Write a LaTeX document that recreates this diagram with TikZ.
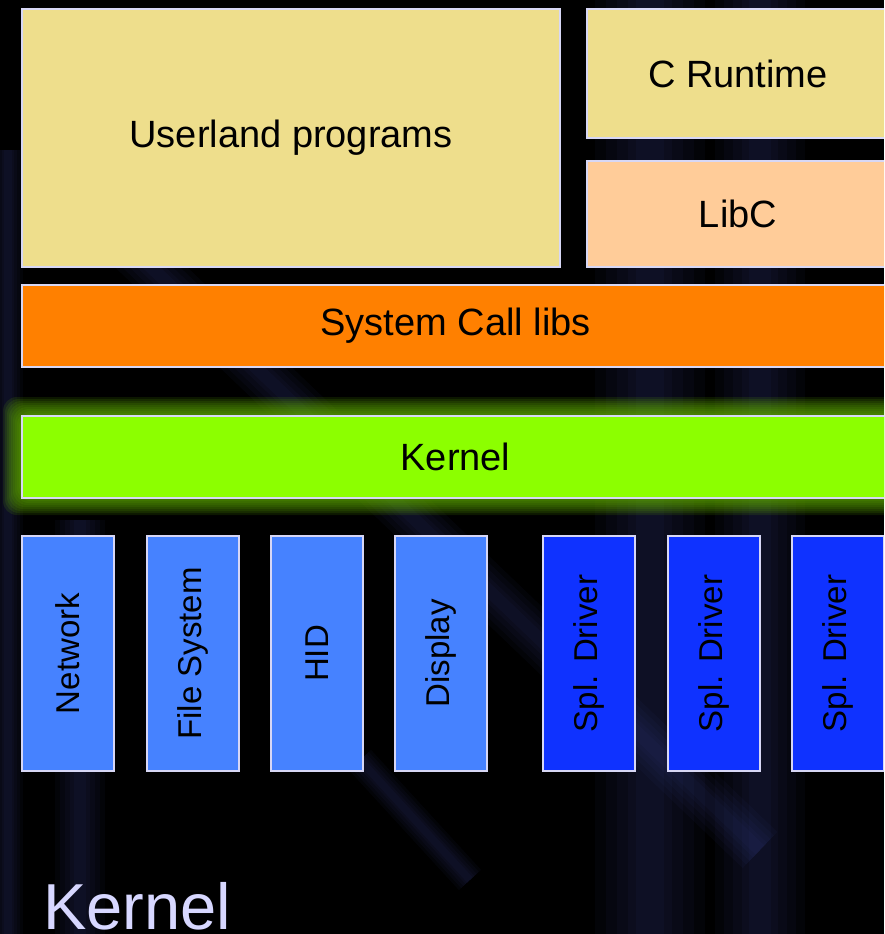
\documentclass[tikz,border=0pt]{standalone}
\usepackage{fontspec}
\setmainfont{Liberation Sans}
\definecolor{khaki}{RGB}{238,222,140}
\definecolor{libcol}{RGB}{255,204,153}
\definecolor{sysorange}{RGB}{255,128,0}
\definecolor{kgreen}{RGB}{140,255,0}
\definecolor{glowgreen}{RGB}{100,180,0}
\definecolor{modblue}{RGB}{70,130,255}
\definecolor{drvblue}{RGB}{15,50,255}
\definecolor{edge}{RGB}{215,215,245}
\definecolor{titlecol}{RGB}{215,215,255}
\definecolor{streak}{RGB}{70,80,170}
\tikzset{
  box/.style={draw=edge, line width=2pt, rectangle, inner sep=0pt,
    anchor=north west, font=\fontsize{38}{42}\selectfont, text=black},
  vbox/.style={box, minimum width=92pt, minimum height=235pt,
    font=\fontsize{33}{37}\selectfont},
  module/.style={vbox, fill=modblue},
  driver/.style={vbox, fill=drvblue},
  softstreak/.style={streak, opacity=0.05, line cap=butt},
}
% a soft-edged light beam: several widths stacked with low opacity
\newcommand{\beam}[3]{%
  \foreach \w in {1,0.8,0.6,0.4,0.25}
    \draw[softstreak, line width=\w*#3] #1 -- #2;}
\begin{document}
\begin{tikzpicture}[x=1pt,y=-1pt]
  \clip (0,0) rectangle (884,934);
  \fill[black] (0,0) rectangle (884,934);

  % faint light beams in the backdrop
  \beam{(8,150)}{(8,934)}{30pt}
  \beam{(80,520)}{(80,934)}{50pt}
  \beam{(650,0)}{(650,934)}{110pt}
  \beam{(760,0)}{(760,934)}{90pt}
  \beam{(60,180)}{(760,850)}{50pt}
  \beam{(360,760)}{(470,880)}{30pt}

  % upper layers
  \node[box, fill=khaki, minimum width=538pt, minimum height=258pt]
    (user) at (21,8) {Userland programs};
  \node[box, fill=khaki, minimum width=302pt, minimum height=129pt]
    (crt) at (586,8) {C Runtime};
  \node[box, fill=libcol, minimum width=302pt, minimum height=106pt]
    (libc) at (586,160) {LibC};
  \node[box, fill=sysorange, minimum width=867pt, minimum height=82pt]
    (sys) at (21,284) {System Call libs};

  % glow round the kernel bar
  \foreach \g in {18,16,...,2}
    \fill[glowgreen, opacity=0.13, rounded corners=14pt]
      (21-\g,415-\g) rectangle (900,497+\g);
  \node[box, fill=kgreen, minimum width=867pt, minimum height=82pt]
    (kern) at (21,415) {Kernel};

  % kernel modules and drivers
  \node[module] (net)  at (21,535)  {\rotatebox{90}{Network}};
  \node[module] (fs)   at (146,535) {\rotatebox{90}{File System}};
  \node[module] (hid)  at (270,535) {\rotatebox{90}{HID}};
  \node[module] (disp) at (394,535) {\rotatebox{90}{Display}};
  \node[driver] (drv1) at (542,535) {\rotatebox{90}{Spl. Driver}};
  \node[driver] (drv2) at (667,535) {\rotatebox{90}{Spl. Driver}};
  \node[driver] (drv3) at (791,535) {\rotatebox{90}{Spl. Driver}};

  % slide title
  \node[anchor=base west, inner sep=0pt, text=titlecol,
        font=\fontsize{65}{70}\selectfont] (title) at (43,929) {Kernel};
\end{tikzpicture}
\end{document}
